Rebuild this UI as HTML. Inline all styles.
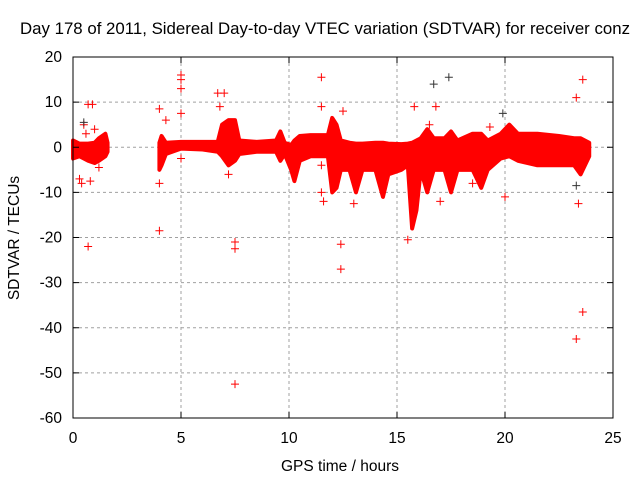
<!DOCTYPE html>
<html><head><meta charset="utf-8"><style>
body{margin:0;background:#fff;}
svg text{font-family:"Liberation Sans",sans-serif;font-size:15.5px;fill:#000;}
</style></head><body>
<svg id="chart" width="640" height="480" xmlns="http://www.w3.org/2000/svg">
<rect width="640" height="480" fill="#fff"/>
<text x="20" y="34" textLength="610" lengthAdjust="spacingAndGlyphs" style="font-size:16.5px">Day 178 of 2011, Sidereal Day-to-day VTEC variation (SDTVAR) for receiver conz</text>
<text x="340" y="471" text-anchor="middle">GPS time / hours</text>
<text transform="translate(19,238) rotate(-90)" text-anchor="middle">SDTVAR / TECUs</text>
<g id="grid"></g>
<g id="data"></g>
<g id="axes"></g>
</svg>
<script>
const xTicks=[0,5,10,15,20,25];
const yTicks=[20,10,0,-10,-20,-30,-40,-50,-60];
// band envelope segments: hours, low, high
const seg1Hours=[0,0.3,0.7,1.0,1.2,1.5,1.6];
const seg1Low=[-2.5,-2,-3,-3.5,-3,-2,-1];
const seg1High=[1.5,0.8,0.8,1,2,3,1];
const seg2Hours=[4.0,4.1,4.3,5,6,6.7,6.9,7.2,7.5,7.7,8.5,9.4,9.6,9.8,10.1,10.25,10.5,11,11.8,12.0,12.2,12.4,12.8,13.1,13.4,14.0,14.35,14.6,15.2,15.5,15.7,15.9,16.1,16.4,16.7,17.2,17.5,17.8,18.5,18.9,19.2,19.8,20.2,20.6,21.5,22.5,23.2,23.5,23.9];
const seg2Low=[-5,-4,-1.5,-0.3,-0.5,-1,-2,-4,-3,-1.5,-1,-1,-3,-1.5,-5,-7.5,-3,-2,-2,-10,-9,-5,-5,-10,-5,-5,-11,-6,-5,-4,-18,-14,-5,-10,-5,-5,-10,-5,-5,-9,-5,-2.5,-2,-3,-4,-4,-4,-6,-2];
const seg2High=[1,2.5,1,1.2,1.2,1.2,5,6,6,1.5,1.2,1.5,3.5,1,0.5,1.5,2.5,2.7,2.7,6.5,5,1.5,1,0.8,0.8,1,1,0.8,0.7,0.8,1,1.5,2,4,2,2,3.5,1.5,3,3,1.5,3,5,3,3,2.5,2,2,1];
const outlierHours=[0.3,0.5,0.6,0.7,0.7,0.9,1.0,0.8,0.4,1.2,4.0,4.0,4.0,4.3,5.0,5.0,5.0,5.0,5.0,6.7,6.8,7.0,7.2,7.5,7.5,7.5,11.5,11.5,11.5,11.5,11.6,12.4,12.4,12.5,13.0,15.5,15.8,16.8,17.0,18.5,16.5,19.3,20.0,23.3,23.4,23.3,23.6,23.6];
const outlierValues=[-7,5,3,9.5,-22,9.5,4,-7.5,-8,-4.5,8.5,-8,-18.5,6,15,16,13,7.5,-2.5,12,9,12,-6,-21,-22.5,-52.5,15.5,9,-4,-10,-12,-21.5,-27,8,-12.5,-20.5,9,9,-12,-8,5,4.5,-11,11,-12.5,-42.5,15,-36.5];
const darkHours=[0.5,16.7,17.4,19.9,23.3];
const darkValues=[5.5,14,15.5,7.5,-8.5];

const L=73,R=613,T=57,B=418;
const xs=v=>L+(v-0)/25*(R-L);
const ys=v=>T+(20-v)/80*(B-T);
const NS="http://www.w3.org/2000/svg";
function mk(tag,parent,attrs){const e=document.createElementNS(NS,tag);for(const k in attrs)e.setAttribute(k,attrs[k]);parent.appendChild(e);return e;}
const grid=document.getElementById('grid'),axes=document.getElementById('axes'),data=document.getElementById('data');
xTicks.forEach(t=>{const x=xs(t);
 if(t>0&&t<25){const g=mk('line',grid,{x1:x,x2:x,y1:T,y2:B,stroke:'#a0a0a0','stroke-dasharray':'3,3'});}
 mk('line',axes,{x1:x,x2:x,y1:B,y2:B-6,stroke:'#000'});mk('line',axes,{x1:x,x2:x,y1:T,y2:T+6,stroke:'#000'});
 const tx=mk('text',axes,{x:x,y:B+25,'text-anchor':'middle'});tx.textContent=t;
 });
yTicks.forEach(t=>{const y=ys(t);
 if(t<20&&t>-60){const g=mk('line',grid,{x1:L,x2:R,y1:y,y2:y,stroke:'#a0a0a0','stroke-dasharray':'3,3'});}
 mk('line',axes,{x1:L,x2:L+6,y1:y,y2:y,stroke:'#000'});mk('line',axes,{x1:R,x2:R-6,y1:y,y2:y,stroke:'#000'});
 const tx=mk('text',axes,{x:L-11,y:y+5,'text-anchor':'end'});tx.textContent=t;
 });
const fr=mk('rect',axes,{x:L,y:T,width:R-L,height:B-T,fill:'none',stroke:'#000'});

function band(h,lo,hi,name){
 let pts=h.map((v,i)=>xs(v)+','+ys(hi[i]));
 pts=pts.concat(h.map((v,i)=>xs(v)+','+ys(lo[i])).reverse());
 const p=mk('polygon',data,{points:pts.join(' '),fill:'#ff0000',stroke:'#ff0000','stroke-width':4,'stroke-linejoin':'round'});
 }
band(seg1Hours,seg1Low,seg1High,'band-segment-1');
band(seg2Hours,seg2Low,seg2High,'band-segment-2');
function plus(x,y,c,name){const p=mk('path',data,{d:`M${x-4},${y}h8M${x},${y-4}v8`,stroke:c,'stroke-width':1});
 }
outlierHours.forEach((h,i)=>plus(xs(h),ys(outlierValues[i]),'#ff0000','outlier-point'));
darkHours.forEach((h,i)=>plus(xs(h),ys(darkValues[i]),'#333','dark-point'));
</script>
</body></html>
